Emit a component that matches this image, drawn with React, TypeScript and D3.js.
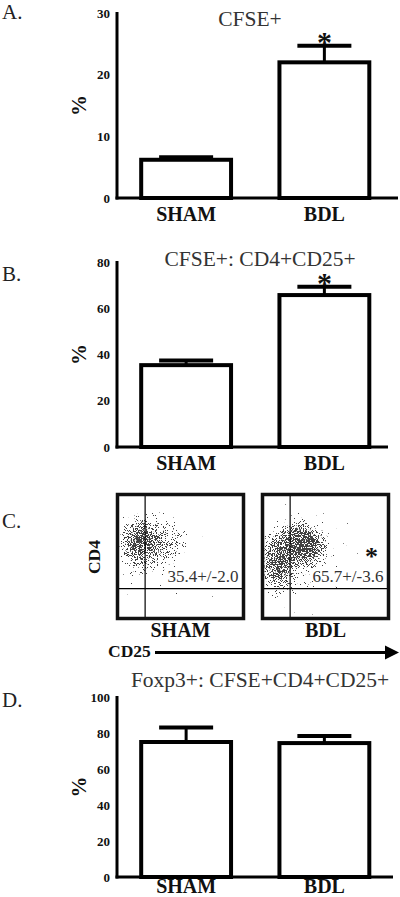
import React from "react";
import * as d3 from "d3";

// ---- data ----
const categories = ["SHAM", "BDL"];

const cfseMean = [6.2, 22.0];
const cfseErr = [0.4, 2.7];
const cfseSig = [false, true];
const cfseTicks = [0, 10, 20, 30];

const cd4cd25Mean = [35.4, 65.7];
const cd4cd25Err = [2.0, 3.6];
const cd4cd25Sig = [false, true];
const cd4cd25Ticks = [0, 20, 40, 60, 80];

const foxp3Mean = [75.0, 74.4];
const foxp3Err = [8.0, 4.0];
const foxp3Sig = [false, false];
const foxp3Ticks = [0, 20, 40, 60, 80, 100];

// flow cytometry (channel units 0-1000)
const gateCD25 = 210;
const gateCD4 = 232;
const flowValues = ["35.4+/-2.0", "65.7+/-3.6"];
const flowSig = [false, true];
// density clusters: [cd25 center, cd4 center, cd25 spread, cd4 spread, peak density]
const shamClusters = [
  [200, 560, 480, 520, 0.3],
  [170, 610, 210, 290, 0.85],
  [360, 620, 280, 240, 0.5],
];
const bdlClusters = [
  [230, 520, 560, 560, 0.35],
  [110, 450, 190, 330, 0.85],
  [330, 580, 250, 230, 1.0],
  [260, 680, 200, 160, 0.55],
];

const FONT = "Liberation Serif";

const xBand = d3.scaleBand<string>().domain(categories).range([117, 393.5]).paddingInner(0.35).paddingOuter(0.175);

type BarProps = {
  letter: string;
  letterY: number;
  title: string;
  titleX: number;
  titleY: number;
  top: number;
  base: number;
  max: number;
  ticks: number[];
  means: number[];
  errs: number[];
  sig: boolean[];
  axisEnd: number;
  catY: number;
};

function BarPanel(p: BarProps) {
  const y = d3.scaleLinear().domain([0, p.max]).range([p.base, p.top]);
  const bw = xBand.bandwidth();
  const capW = 54;
  return (
    <g>
      <text x={2} y={p.letterY} style={{ fontFamily: FONT, fontSize: 21 }} fill="#222">{p.letter}</text>
      <text x={p.titleX} y={p.titleY} style={{ fontFamily: FONT, fontSize: 21.5 }} fill="#333" textAnchor="middle">{p.title}</text>
      {p.ticks.map((t) => (
        <text key={t} x={110} y={y(t)} dy="0.35em" textAnchor="end" style={{ fontFamily: FONT, fontSize: 13, fontWeight: "bold" }} fill="#111">{t}</text>
      ))}
      <text transform={`translate(86,${(p.top + p.base) / 2}) rotate(-90)`} textAnchor="middle" style={{ fontFamily: FONT, fontSize: 21, fontWeight: "bold" }} fill="#111">%</text>
      {categories.map((c, i) => {
        const x0 = xBand(c)!;
        const cx = x0 + bw / 2;
        const yTop = y(p.means[i]);
        const yErr = y(p.means[i] + p.errs[i]);
        return (
          <g key={c}>
            <line x1={cx} x2={cx} y1={yTop} y2={yErr} stroke="#000" strokeWidth={3} />
            <line x1={cx - capW / 2} x2={cx + capW / 2} y1={yErr} y2={yErr} stroke="#000" strokeWidth={4} />
            <rect x={x0} y={yTop} width={bw} height={p.base - yTop} fill="#fff" stroke="#000" strokeWidth={4} />
            {p.sig[i] && (
              <text x={cx} y={yErr + 6} textAnchor="middle" style={{ fontFamily: FONT, fontSize: 30, fontWeight: "bold" }} fill="#111">*</text>
            )}
            <text x={cx} y={p.catY} textAnchor="middle" style={{ fontFamily: FONT, fontSize: 20, fontWeight: "bold" }} fill="#111">{c}</text>
          </g>
        );
      })}
      <line x1={117} x2={117} y1={p.top - 1} y2={p.base + 1.5} stroke="#000" strokeWidth={3} />
      <line x1={115.5} x2={p.axisEnd} y1={p.base} y2={p.base} stroke="#000" strokeWidth={3} />
    </g>
  );
}

type FlowProps = { id: string; x0: number; clusters: number[][]; value: string; sig: boolean; label: string };

function FlowPanel(p: FlowProps) {
  const boxTop = 494.5;
  const boxW = 126;
  const boxH = 124;
  const sx = d3.scaleLinear().domain([0, 1000]).range([p.x0 + 2, p.x0 + boxW - 2]);
  const sy = d3.scaleLinear().domain([0, 1000]).range([boxTop + boxH - 2, boxTop + 2]);
  const kx = (sx(1000) - sx(0)) / 1000;
  const ky = (sy(0) - sy(1000)) / 1000;
  return (
    <g>
      <defs>
        <clipPath id={`clip-${p.id}`}>
          <rect x={sx(0)} y={sy(1000)} width={sx(1000) - sx(0)} height={sy(0) - sy(1000)} />
        </clipPath>
        {p.clusters.map((c, i) => (
          <radialGradient key={i} id={`g-${p.id}-${i}`}>
            <stop offset="0" stopColor="#000" stopOpacity={c[4]} />
            <stop offset="0.35" stopColor="#000" stopOpacity={c[4] * 0.85} />
            <stop offset="0.65" stopColor="#000" stopOpacity={c[4] * 0.45} />
            <stop offset="0.85" stopColor="#000" stopOpacity={c[4] * 0.15} />
            <stop offset="1" stopColor="#000" stopOpacity={0} />
          </radialGradient>
        ))}
      </defs>
      <g clipPath={`url(#clip-${p.id})`}>
        <g filter="url(#stipple)" opacity={0.75}>
          {p.clusters.map((c, i) => (
            <ellipse key={i} cx={sx(c[0])} cy={sy(c[1])} rx={c[2] * kx} ry={c[3] * ky} fill={`url(#g-${p.id}-${i})`} />
          ))}
        </g>
      </g>
      <line x1={sx(gateCD25)} x2={sx(gateCD25)} y1={boxTop} y2={boxTop + boxH} stroke="#000" strokeWidth={1.2} />
      <line x1={p.x0} x2={p.x0 + boxW} y1={sy(gateCD4)} y2={sy(gateCD4)} stroke="#000" strokeWidth={1.2} />
      <rect x={p.x0} y={boxTop} width={boxW} height={boxH} fill="none" stroke="#111" strokeWidth={3.5} />
      <text x={p.x0 + boxW - 5} y={582} textAnchor="end" style={{ fontFamily: FONT, fontSize: 17 }} fill="#333">{p.value}</text>
      {p.sig && (
        <text x={p.x0 + boxW - 17} y={565} textAnchor="middle" style={{ fontFamily: FONT, fontSize: 26, fontWeight: "bold" }} fill="#111">*</text>
      )}
      <text x={p.x0 + boxW / 2} y={637} textAnchor="middle" style={{ fontFamily: FONT, fontSize: 20, fontWeight: "bold" }} fill="#111">{p.label}</text>
    </g>
  );
}

export default function App() {
  return (
    <svg width={400} height={897} viewBox="0 0 400 897" style={{ position: "absolute", left: 0, top: 0, background: "#fff", fontFamily: FONT }}>
      <defs>
        <filter id="stipple" filterUnits="userSpaceOnUse" x={100} y={480} width={300} height={150} colorInterpolationFilters="sRGB">
          <feTurbulence type="fractalNoise" baseFrequency="1.1" numOctaves={2} seed={5} result="noise" />
          <feColorMatrix in="noise" type="matrix" values="0 0 0 0 0  0 0 0 0 0  0 0 0 0 0  1 0 0 0 0" result="nr" />
          <feComponentTransfer in="SourceAlpha" result="dens">
            <feFuncA type="linear" slope={0.45} intercept={0.16} />
          </feComponentTransfer>
          <feComposite in="dens" in2="nr" operator="arithmetic" k1={0} k2={1} k3={-1} k4={0} result="diff" />
          <feComponentTransfer in="diff">
            <feFuncA type="linear" slope={40} intercept={0} />
          </feComponentTransfer>
        </filter>
      </defs>
      <rect x={0} y={0} width={400} height={897} fill="#fff" />

      <BarPanel letter="A." letterY={19} title="CFSE+" titleX={250} titleY={26} top={13} base={198} max={30}
        ticks={cfseTicks} means={cfseMean} errs={cfseErr} sig={cfseSig} axisEnd={398} catY={221} />

      <BarPanel letter="B." letterY={281} title="CFSE+: CD4+CD25+" titleX={260} titleY={266} top={262} base={447} max={80}
        ticks={cd4cd25Ticks} means={cd4cd25Mean} errs={cd4cd25Err} sig={cd4cd25Sig} axisEnd={388} catY={470} />

      {/* Panel C */}
      <text x={2} y={528} style={{ fontFamily: FONT, fontSize: 21 }} fill="#222">C.</text>
      <text transform="translate(100,557) rotate(-90)" textAnchor="middle" style={{ fontFamily: FONT, fontSize: 17.5, fontWeight: "bold" }} fill="#111">CD4</text>
      <FlowPanel id="sham" x0={117.5} clusters={shamClusters} value={flowValues[0]} sig={flowSig[0]} label={categories[0]} />
      <FlowPanel id="bdl" x0={262.5} clusters={bdlClusters} value={flowValues[1]} sig={flowSig[1]} label={categories[1]} />
      <text x={108} y={657} style={{ fontFamily: FONT, fontSize: 17.5, fontWeight: "bold" }} fill="#111">CD25</text>
      <line x1={155} x2={387} y1={652.5} y2={652.5} stroke="#000" strokeWidth={3} />
      <path d="M385,645.5 L399,652.5 L385,659.5 Z" fill="#000" />

      <BarPanel letter="D." letterY={707} title="Foxp3+: CFSE+CD4+CD25+" titleX={260} titleY={687} top={697} base={877} max={100}
        ticks={foxp3Ticks} means={foxp3Mean} errs={foxp3Err} sig={foxp3Sig} axisEnd={393} catY={893} />
    </svg>
  );
}
